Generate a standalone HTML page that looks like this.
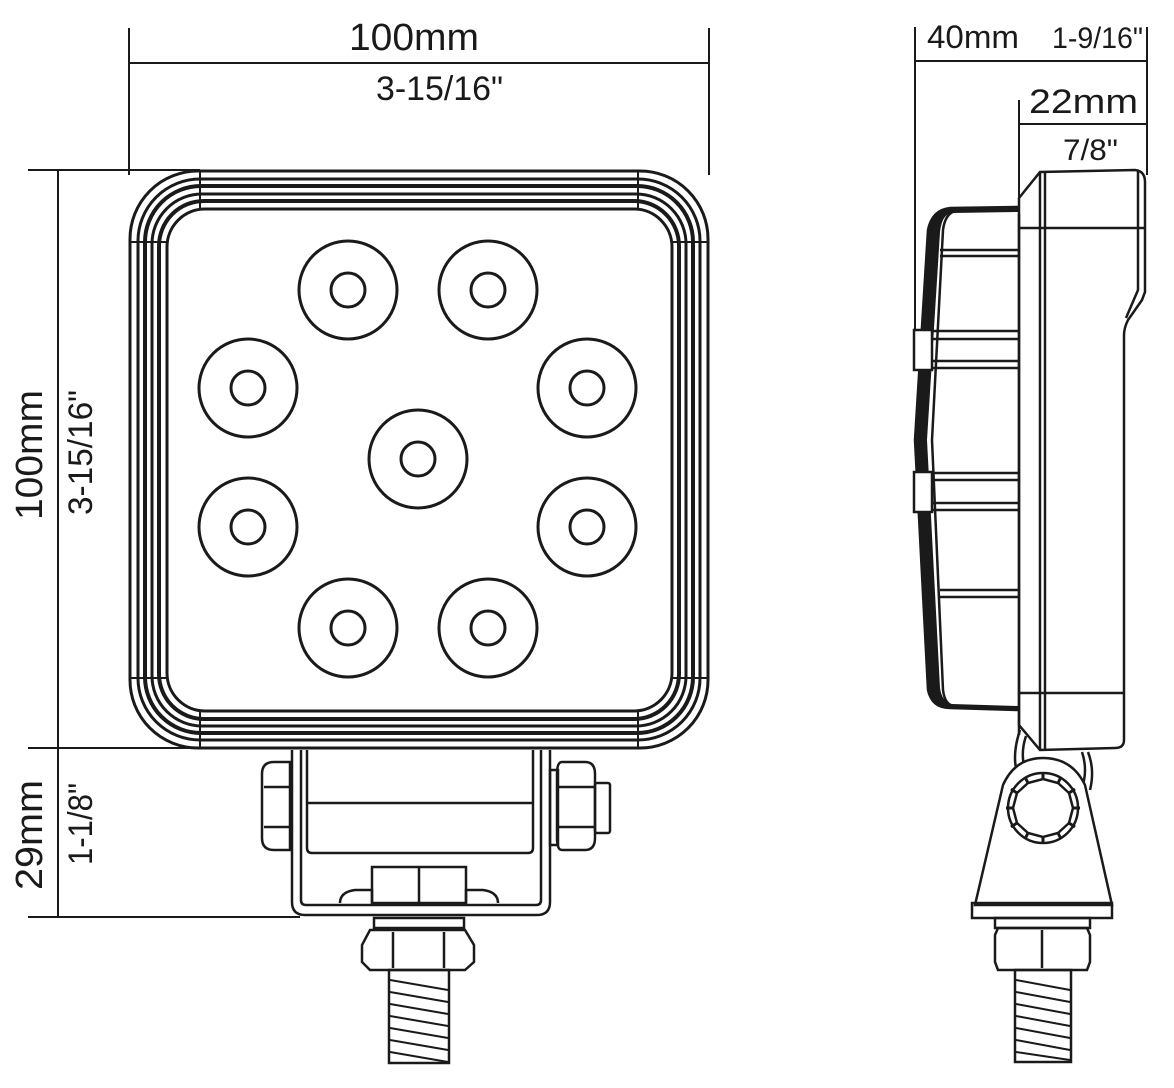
<!DOCTYPE html>
<html><head><meta charset="utf-8"><style>html,body{margin:0;padding:0;background:#fff}svg{display:block}</style></head>
<body>
<svg width="1174" height="1088" viewBox="0 0 1174 1088" xmlns="http://www.w3.org/2000/svg" font-family="Liberation Sans, sans-serif" fill="none" stroke="#1a1a1a">
<g stroke-width="2">
<line x1="129" y1="28" x2="129" y2="175"/>
<line x1="709" y1="28" x2="709" y2="175"/>
<line x1="129" y1="63" x2="709" y2="63"/>
<line x1="58" y1="170" x2="58" y2="917"/>
<line x1="28" y1="170" x2="200" y2="170"/>
<line x1="28" y1="748" x2="210" y2="748"/>
<line x1="28" y1="917" x2="300" y2="917"/>
</g>
<g fill="#1a1a1a" stroke="none">
<text x="349" y="50" font-size="38" textLength="130" lengthAdjust="spacingAndGlyphs">100mm</text>
<text x="376" y="100" font-size="34" textLength="127" lengthAdjust="spacingAndGlyphs">3-15/16"</text>
<text transform="translate(42,520) rotate(-90)" font-size="38" textLength="130" lengthAdjust="spacingAndGlyphs">100mm</text>
<text transform="translate(92,515) rotate(-90)" font-size="34" textLength="125" lengthAdjust="spacingAndGlyphs">3-15/16"</text>
<text transform="translate(42,890) rotate(-90)" font-size="38" textLength="110" lengthAdjust="spacingAndGlyphs">29mm</text>
<text transform="translate(92,865) rotate(-90)" font-size="34" textLength="82" lengthAdjust="spacingAndGlyphs">1-1/8"</text>
<text x="927" y="48" font-size="32" textLength="92" lengthAdjust="spacingAndGlyphs">40mm</text>
<text x="1052" y="48" font-size="30" textLength="91" lengthAdjust="spacingAndGlyphs">1-9/16"</text>
<text x="1029" y="113" font-size="34" textLength="109" lengthAdjust="spacingAndGlyphs">22mm</text>
<text x="1063" y="160" font-size="30" textLength="55" lengthAdjust="spacingAndGlyphs">7/8"</text>
</g>
<g stroke-width="3">
<rect x="130" y="171" width="578" height="577" rx="68"/>
<rect x="138" y="179" width="562" height="561" rx="62"/>
<rect x="145" y="186" width="548" height="547" rx="56" stroke-width="4"/>
<rect x="152" y="194" width="534" height="532" rx="50"/>
<rect x="159" y="201" width="520" height="518" rx="45" stroke-width="4"/>
<rect x="167" y="209" width="505" height="502" rx="38"/>
</g>
<g stroke-width="2">
<line x1="200" y1="170" x2="200" y2="210"/><line x1="638" y1="170" x2="638" y2="210"/>
<line x1="200" y1="710" x2="200" y2="748"/><line x1="638" y1="710" x2="638" y2="748"/>
<line x1="129" y1="242" x2="167" y2="242"/><line x1="671" y1="242" x2="709" y2="242"/>
<line x1="129" y1="678" x2="167" y2="678"/><line x1="671" y1="678" x2="709" y2="678"/>
</g>
<g stroke-width="3">
<circle cx="348" cy="290" r="49"/><circle cx="348" cy="290" r="17"/>
<circle cx="488" cy="290" r="49"/><circle cx="488" cy="290" r="17"/>
<circle cx="248" cy="388" r="49"/><circle cx="248" cy="388" r="17"/>
<circle cx="587" cy="388" r="49"/><circle cx="587" cy="388" r="17"/>
<circle cx="418" cy="459" r="49"/><circle cx="418" cy="459" r="17"/>
<circle cx="248" cy="527" r="49"/><circle cx="248" cy="527" r="17"/>
<circle cx="587" cy="527" r="49"/><circle cx="587" cy="527" r="17"/>
<circle cx="348" cy="628" r="49"/><circle cx="348" cy="628" r="17"/>
<circle cx="488" cy="628" r="49"/><circle cx="488" cy="628" r="17"/>
</g>
<g stroke-width="2.5">
<path d="M292 750 V902 Q292 915 305 915 H537 Q550 915 550 902 V750"/>
<path d="M301 750 V900 Q301 905 306 905 H536 Q541 905 541 900 V750"/>
<path d="M307 750 V848 Q307 853 312 853 H528 Q533 853 533 848 V750"/>
<line x1="307" y1="803" x2="533" y2="803"/>
<path d="M274 762 H290 V850 H274 Q262 850 262 838 V774 Q262 762 274 762 Z"/>
<line x1="264" y1="787" x2="290" y2="787"/><line x1="264" y1="827" x2="290" y2="827"/>
<rect x="550" y="770" width="8" height="75"/>
<path d="M562 762 H585 Q595 762 595 774 V838 Q595 850 585 850 H562 Q557 850 557 838 V774 Q557 762 562 762 Z"/>
<line x1="559" y1="787" x2="595" y2="787"/><line x1="559" y1="827" x2="595" y2="827"/>
<rect x="595" y="783" width="15" height="50" rx="2"/>
<path d="M340 903 Q340 892 355 890 H372 V903"/><path d="M498 903 Q498 892 483 890 H466 V903"/>
<path d="M372 867 H466 V903 H372 Z"/><line x1="419" y1="868" x2="419" y2="903"/>
<rect x="374" y="918" width="90" height="10"/>
<path d="M370 930 H465 L474 945 V962 L465 970 H370 L362 962 V945 Z"/>
<line x1="393" y1="932" x2="393" y2="968"/><line x1="444" y1="932" x2="444" y2="968"/>
<rect x="389" y="970" width="60" height="93"/>
</g>
<g stroke-width="2">
<line x1="390" y1="980" x2="448" y2="990"/><line x1="390" y1="992" x2="448" y2="1002"/>
<line x1="390" y1="1004" x2="448" y2="1014"/><line x1="390" y1="1016" x2="448" y2="1026"/>
<line x1="390" y1="1028" x2="448" y2="1038"/><line x1="390" y1="1040" x2="448" y2="1050"/>
<line x1="390" y1="1052" x2="448" y2="1062"/>
</g>
<g stroke-width="2">
<line x1="915" y1="27" x2="915" y2="330"/>
<line x1="915" y1="61" x2="1147" y2="61"/>
<line x1="1147" y1="27" x2="1147" y2="175"/>
<line x1="1019" y1="100" x2="1019" y2="200"/>
<line x1="1019" y1="124" x2="1147" y2="124"/>
</g>
<g stroke-width="2.5">
<path d="M1019 198 L1040 172 L1135 170 Q1145 171 1145 182 V292 L1142 300 L1128 320 Q1124 328 1124 335 V740 Q1124 748 1115 748 L1040 750 L1019 725 Z"/>
<path d="M1138 171 V290 L1126 318"/>
<line x1="1040" y1="172" x2="1040" y2="750"/><line x1="1045" y1="172" x2="1045" y2="750"/>
<line x1="1019" y1="228" x2="1145" y2="228"/><line x1="1019" y1="214" x2="1019" y2="735"/>
<line x1="1019" y1="693" x2="1124" y2="693"/>
<path d="M1019 207 L950 208 Q932 210 928 230 L915 440 L928 690 Q932 708 950 708 L1019 710"/>
<path d="M1019 210 L955 211 Q945 214 943 230 L932 440 L943 690 Q945 706 955 706 L1019 708"/>
<line x1="940" y1="250" x2="1019" y2="250"/><line x1="940" y1="256" x2="1019" y2="256"/>
<line x1="932" y1="331" x2="1019" y2="331"/><line x1="932" y1="339" x2="1019" y2="339"/>
<line x1="932" y1="361" x2="1019" y2="361"/><line x1="932" y1="368" x2="1019" y2="368"/>
<line x1="932" y1="473" x2="1019" y2="473"/><line x1="932" y1="480" x2="1019" y2="480"/>
<line x1="932" y1="503" x2="1019" y2="503"/><line x1="932" y1="510" x2="1019" y2="510"/>
<line x1="940" y1="590" x2="1019" y2="590"/><line x1="940" y1="597" x2="1019" y2="597"/>
</g>
<path d="M1019 207 L950 208 Q932 210 928 230 L915 440 L928 690 Q932 708 950 708 L1019 710 L1019 706 L952 704 Q942 702 940 688 L927 440 L940 232 Q942 214 952 213 L1019 212 Z" fill="#1a1a1a" stroke="none"/>
<g stroke-width="2.5">
<rect x="914" y="330" width="18" height="40" fill="#fff"/>
<rect x="914" y="472" width="18" height="40" fill="#fff"/>
</g>
<g stroke-width="2.5">
<path d="M1020 730 Q1010 760 1020 780"/><path d="M1026 736 Q1018 760 1030 780"/>
<path d="M1088 752 Q1095 770 1090 790"/><path d="M1082 752 Q1088 770 1082 788"/>
<path d="M1003 785 Q1015 758 1043 758 Q1072 758 1085 785 L1112 905 H975 Z" fill="#fff"/>
<rect x="972" y="903" width="140" height="15"/>
<circle cx="1043" cy="808" r="35"/>
<polygon points="1043,779 1058,783 1069,793 1073,808 1069,823 1058,833 1043,837 1028,833 1017,823 1013,808 1017,793 1028,783"/>
<rect x="995" y="918" width="95" height="10"/>
<path d="M998 928 H1087 L1090 935 V962 L1087 970 H998 L995 962 V935 Z"/>
<line x1="1042" y1="930" x2="1042" y2="968"/>
<rect x="1015" y="970" width="56" height="92"/>
</g>
<g stroke-width="3" stroke-linecap="butt">
<line x1="1043" y1="773" x2="1043" y2="779"/><line x1="1043" y1="837" x2="1043" y2="844"/>
<line x1="1006" y1="808" x2="1013" y2="808"/><line x1="1073" y1="808" x2="1080" y2="808"/>
<line x1="1061" y1="777" x2="1058" y2="783"/><line x1="1025" y1="777" x2="1028" y2="783"/>
<line x1="1061" y1="839" x2="1058" y2="833"/><line x1="1025" y1="839" x2="1028" y2="833"/>
<line x1="1075" y1="789" x2="1069" y2="793"/><line x1="1011" y1="789" x2="1017" y2="793"/>
<line x1="1075" y1="827" x2="1069" y2="823"/><line x1="1011" y1="827" x2="1017" y2="823"/>
</g>
<g stroke-width="2">
<line x1="1016" y1="980" x2="1070" y2="990"/><line x1="1016" y1="992" x2="1070" y2="1002"/>
<line x1="1016" y1="1004" x2="1070" y2="1014"/><line x1="1016" y1="1016" x2="1070" y2="1026"/>
<line x1="1016" y1="1028" x2="1070" y2="1038"/><line x1="1016" y1="1040" x2="1070" y2="1050"/>
<line x1="1016" y1="1052" x2="1070" y2="1060"/>
</g>
</svg>
</body></html>
